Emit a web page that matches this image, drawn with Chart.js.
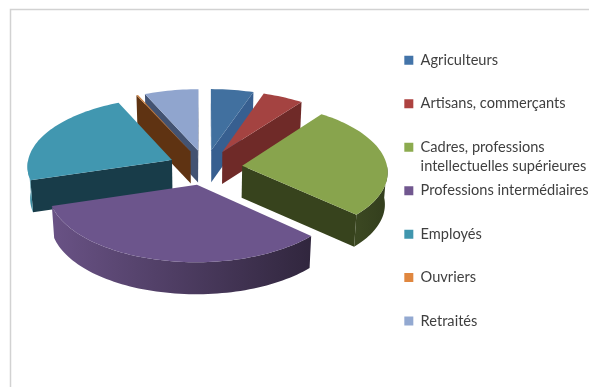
<!DOCTYPE html>
<html>
<head>
<meta charset="utf-8">
<style>
  html, body { margin: 0; padding: 0; background: #fff; }
  canvas { display: block; }
</style>
<script src="https://cdn.jsdelivr.net/npm/chart.js@4"></script>
</head>
<body>
<canvas id="myChart" width="589" height="387"></canvas>
<script>
var categories = [
  "Agriculteurs",
  "Artisans, commerçants",
  ["Cadres, professions", "intellectuelles supérieures"],
  "Professions intermédiaires",
  "Employés",
  "Ouvriers",
  "Retraités"
];
var shares = [5.2, 5.0, 26.7, 33.4, 22.9, 0.2, 6.6];

var legendColors = ["#4374A9", "#AD4240", "#8CAB4F", "#71578F", "#4096AE", "#E0873F", "#93A9D1"];
var topColors = ["#41709F", "#A44341", "#88A44D", "#6C558C", "#4197B0", "#C87A38", "#90A5CE"];
var wallColors = ["#4F81BD", "#C0504D", "#9BBB59", "#8064A2", "#4BACC6", "#F79646", "#95A9D2"];
var cutColors = ["#375F90", "#6F2A28", "#37431D", "#453558", "#183C49", "#5F3312", "#435372"];

// tilt of the pie plane, the rest comes from the arcs chart.js has laid out
var tilt = 0.473, focal = 1840, depth = 32, taper = 0.015, lift = 43;

function shade(hex, f) {
  var n = parseInt(hex.slice(1), 16);
  return "rgb(" + Math.round((n >> 16) * f) + "," + Math.round(((n >> 8) & 255) * f) + "," + Math.round((n & 255) * f) + ")";
}

function fillFace(ctx, pts, color) {
  ctx.beginPath();
  pts.forEach(function (p, i) { i ? ctx.lineTo(p[0], p[1]) : ctx.moveTo(p[0], p[1]); });
  ctx.closePath();
  ctx.fillStyle = color;
  ctx.fill();
}

function isFront(a, b, c) {
  return (b[0] - a[0]) * (c[1] - a[1]) - (b[1] - a[1]) * (c[0] - a[0]) < 0;
}

var pie3d = {
  id: "pie3d",
  beforeDraw: function (chart) {
    // chart frame, open on the right and at the bottom
    var ctx = chart.ctx;
    ctx.save();
    ctx.strokeStyle = "#D2D2D2";
    ctx.lineWidth = 1.5;
    ctx.beginPath();
    ctx.moveTo(10.5, chart.height);
    ctx.lineTo(10.5, 9.5);
    ctx.lineTo(chart.width, 9.5);
    ctx.stroke();
    ctx.restore();
  },
  beforeDatasetsDraw: function (chart) {
    var ctx = chart.ctx;
    var arcs = chart.getDatasetMeta(0).data;
    var slices = arcs.map(function (arc, i) {
      var mid = (arc.startAngle + arc.endAngle) / 2;
      return { arc: arc, i: i, mid: mid, order: Math.sin(mid) * (arc.options.offset + arc.outerRadius * 0.6) };
    });
    slices.sort(function (a, b) { return a.order - b.order; });
    slices.forEach(function (s) {
      var arc = s.arc;
      var r = arc.outerRadius;
      var ox = Math.cos(s.mid) * arc.options.offset;
      var oy = Math.sin(s.mid) * arc.options.offset;
      function project(px, py, z) {
        var k = 1 / (1 - py / focal);
        return [arc.x + px * k * (1 - taper * z), arc.y - lift + tilt * py * k + depth * z];
      }
      function rim(a, z) {
        return project(ox + Math.cos(a) * r, oy + Math.sin(a) * r, z);
      }
      function rimRun(from, to, z) {
        var pts = [];
        var steps = Math.max(2, Math.ceil((to - from) / 0.03));
        for (var n = 0; n <= steps; n++) pts.push(rim(from + (to - from) * n / steps, z));
        return pts;
      }
      var apexTop = project(ox, oy, 0), apexBottom = project(ox, oy, 1);

      // the two cut faces, only when they look at the viewer
      var startFace = [apexTop, rim(arc.startAngle, 0), rim(arc.startAngle, 1), apexBottom];
      var endFace = [rim(arc.endAngle, 0), apexTop, apexBottom, rim(arc.endAngle, 1)];
      if (isFront(startFace[0], startFace[1], startFace[2])) fillFace(ctx, startFace, cutColors[s.i]);
      if (isFront(endFace[0], endFace[1], endFace[2])) fillFace(ctx, endFace, cutColors[s.i]);

      // outer wall, only the front half of the circle, darker to the right
      var lo = Math.max(arc.startAngle, 0), hi = Math.min(arc.endAngle, Math.PI);
      if (lo < hi) {
        var grad = ctx.createLinearGradient(arc.x + ox - r, 0, arc.x + ox + r, 0);
        grad.addColorStop(0, shade(wallColors[s.i], 0.82));
        grad.addColorStop(1, shade(wallColors[s.i], 0.33));
        fillFace(ctx, rimRun(lo, hi, 0).concat(rimRun(lo, hi, 1).reverse()), grad);
      }

      // top
      fillFace(ctx, [apexTop].concat(rimRun(arc.startAngle, arc.endAngle, 0)), topColors[s.i]);
    });
    return false;
  }
};

var myChart = new Chart(document.getElementById("myChart").getContext("2d"), {
  type: "pie",
  plugins: [pie3d],
  data: {
    labels: categories,
    datasets: [{
      data: shares,
      backgroundColor: topColors,
      borderWidth: 0,
      offset: 37
    }]
  },
  options: {
    responsive: false,
    animation: false,
    radius: 145,
    layout: { padding: { left: 12, right: -9.5, top: 47.5, bottom: 14 } },
    plugins: {
      tooltip: { enabled: false },
      legend: {
        position: "right",
        align: "start",
        labels: {
          boxWidth: 9,
          boxHeight: 9,
          padding: 5.5,
          color: "#3F3F3F",
          font: { family: "Lato", size: 14.6, lineHeight: 1.3 },
          generateLabels: function () {
            return categories.map(function (c, i) {
              // every entry takes two lines so that all rows keep one pitch
              var lines = [].concat(c);
              if (lines.length < 2) lines.push("");
              return { text: lines, fillStyle: legendColors[i], strokeStyle: legendColors[i], lineWidth: 0, index: i, fontColor: "#3F3F3F" };
            });
          }
        }
      }
    }
  }
});
</script>
</body>
</html>
